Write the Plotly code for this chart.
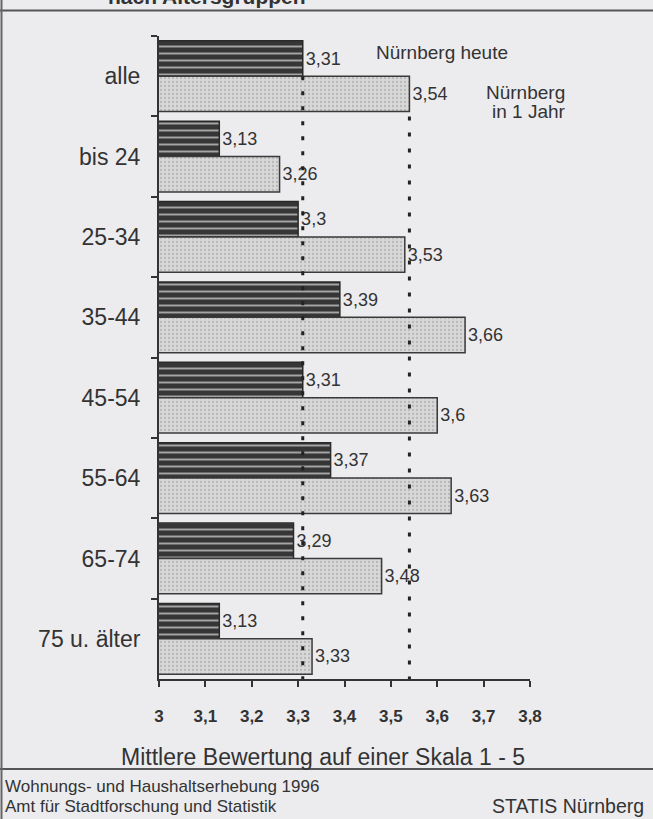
import plotly.graph_objects as go

# ---- data ----
categories = ["alle", "bis 24", "25-34", "35-44", "45-54", "55-64", "65-74", "75 u. älter"]
heute = [3.31, 3.13, 3.30, 3.39, 3.31, 3.37, 3.29, 3.13]
in_1_jahr = [3.54, 3.26, 3.53, 3.66, 3.60, 3.63, 3.48, 3.33]
x_tickvals = [3.0, 3.1, 3.2, 3.3, 3.4, 3.5, 3.6, 3.7, 3.8]
x_ticktext = ["3", "3,1", "3,2", "3,3", "3,4", "3,5", "3,6", "3,7", "3,8"]

title_text = "nach Altersgruppen"
axis_title = "Mittlere Bewertung auf einer Skala 1 - 5"
label_heute = "Nürnberg heute"
label_jahr_1 = "Nürnberg"
label_jahr_2 = "in 1 Jahr"
footer_1 = "Wohnungs- und Haushaltserhebung 1996"
footer_2 = "Amt für Stadtforschung und Statistik"
footer_3 = "STATIS Nürnberg"


def fmt(v):
    return ("%g" % v).replace(".", ",")


W, H = 653, 819
L, R, T, B = 159, 530, 36, 679


def xp(px):
    return (px - L) / (R - L)


def yp(py):
    return (B - py) / (B - T)


FONT = "Liberation Sans, Arial, sans-serif"
TXT = "#333333"
BG = "#ececef"

fig = go.Figure()
fig.add_trace(go.Bar(
    y=categories, x=heute, orientation="h", name=label_heute,
    text=[fmt(v) for v in heute], textposition="outside", cliponaxis=False,
    constraintext="none",
    textfont=dict(family=FONT, size=18, color=TXT),
    marker=dict(
        color="#3a3a3a",
        line=dict(color="#2a2a2a", width=1.5),
        pattern=dict(shape="-", fgcolor="#a5a5a5", bgcolor="#363636",
                     size=7, solidity=0.28, fillmode="replace"),
    ),
))
fig.add_trace(go.Bar(
    y=categories, x=in_1_jahr, orientation="h", name="Nürnberg in 1 Jahr",
    text=[fmt(v) for v in in_1_jahr], textposition="outside", cliponaxis=False,
    constraintext="none",
    textfont=dict(family=FONT, size=18, color=TXT),
    marker=dict(
        color="#d4d4d4",
        line=dict(color="#3a3a3a", width=1.5),
        pattern=dict(shape=".", fgcolor="#b8b8b8", bgcolor="#d8d8d8",
                     size=4, solidity=0.25, fillmode="replace"),
    ),
))

# dotted reference lines at the "alle" values
n = len(categories)
fig.add_shape(type="line", xref="x", yref="y", x0=heute[0], x1=heute[0],
              y0=0, y1=n - 0.5, layer="above",
              line=dict(color="#222222", width=3, dash="4px,11px"))
fig.add_shape(type="line", xref="x", yref="y", x0=in_1_jahr[0], x1=in_1_jahr[0],
              y0=0.5, y1=n - 0.5, layer="above",
              line=dict(color="#222222", width=3, dash="4px,12px"))

# frame lines of the scanned page
fig.add_shape(type="line", xref="paper", yref="paper", x0=xp(0), x1=xp(W),
              y0=yp(10.5), y1=yp(10.5), line=dict(color="#555555", width=2))
fig.add_shape(type="line", xref="paper", yref="paper", x0=xp(0), x1=xp(W),
              y0=yp(769), y1=yp(769), line=dict(color="#555555", width=2))
fig.add_shape(type="line", xref="paper", yref="paper", x0=xp(1.5), x1=xp(1.5),
              y0=yp(0), y1=yp(H), line=dict(color="#666666", width=2))

ann = []
ann.append(dict(text="<b>" + title_text + "</b>", x=xp(106), y=yp(10), xref="paper", yref="paper",
                xanchor="left", yanchor="bottom", showarrow=False,
                font=dict(family=FONT, size=21, color=TXT)))
ann.append(dict(text=label_heute, x=xp(374), y=yp(52), xref="paper", yref="paper",
                xanchor="left", yanchor="middle", showarrow=False,
                font=dict(family=FONT, size=19, color=TXT)))
ann.append(dict(text=label_jahr_1, x=xp(525), y=yp(92), xref="paper", yref="paper",
                xanchor="center", yanchor="middle", showarrow=False,
                font=dict(family=FONT, size=19, color=TXT)))
ann.append(dict(text=label_jahr_2, x=xp(529), y=yp(111), xref="paper", yref="paper",
                xanchor="center", yanchor="middle", showarrow=False,
                font=dict(family=FONT, size=19, color=TXT)))
ann.append(dict(text=axis_title, x=xp(323), y=yp(757), xref="paper", yref="paper",
                xanchor="center", yanchor="middle", showarrow=False,
                font=dict(family=FONT, size=23, color=TXT)))
ann.append(dict(text=footer_1, x=xp(3), y=yp(786), xref="paper", yref="paper",
                xanchor="left", yanchor="middle", showarrow=False,
                font=dict(family=FONT, size=17, color=TXT)))
ann.append(dict(text=footer_2, x=xp(3), y=yp(806), xref="paper", yref="paper",
                xanchor="left", yanchor="middle", showarrow=False,
                font=dict(family=FONT, size=17, color=TXT)))
ann.append(dict(text=footer_3, x=xp(646), y=yp(806), xref="paper", yref="paper",
                xanchor="right", yanchor="middle", showarrow=False,
                font=dict(family=FONT, size=19.5, color=TXT)))

fig.update_layout(
    width=W, height=H,
    margin=dict(l=L, r=W - R, t=T, b=H - B, pad=0),
    paper_bgcolor=BG, plot_bgcolor=BG,
    barmode="group", bargap=0.12, bargroupgap=0,
    showlegend=False,
    annotations=ann,
    xaxis=dict(range=[3, 3.8], tickvals=x_tickvals, ticktext=x_ticktext,
               ticks="outside", ticklen=6, tickwidth=2, tickcolor="#333333",
               showline=True, linecolor="#333333", linewidth=2,
               showgrid=False, zeroline=False, ticklabelstandoff=15,
               tickfont=dict(family=FONT, size=17, color=TXT, weight="bold")),
    yaxis=dict(type="category", categoryorder="array", categoryarray=categories,
               range=[n - 0.5, -0.5], tickson="boundaries",
               ticks="outside", ticklen=6, tickwidth=2, tickcolor="#333333",
               showline=True, linecolor="#333333", linewidth=2,
               showgrid=False, zeroline=False, ticklabelstandoff=12,
               tickfont=dict(family=FONT, size=23, color=TXT)),
    xaxis2=dict(overlaying="x", anchor="y", range=[3, 3.8], tickvals=x_tickvals,
                ticks="inside", ticklen=6, tickwidth=2, tickcolor="#333333",
                showticklabels=False, showline=False, showgrid=False, zeroline=False),
    yaxis2=dict(overlaying="y", anchor="x", range=[n - 0.5, -0.5],
                tickvals=[i - 0.5 for i in range(n + 1)],
                ticks="inside", ticklen=6, tickwidth=2, tickcolor="#333333",
                showticklabels=False, showline=False, showgrid=False, zeroline=False),
)

fig.write_html("out.html", config={"displayModeBar": False},
               post_script="document.body.style.margin='0px';document.body.style.overflow='hidden';")
